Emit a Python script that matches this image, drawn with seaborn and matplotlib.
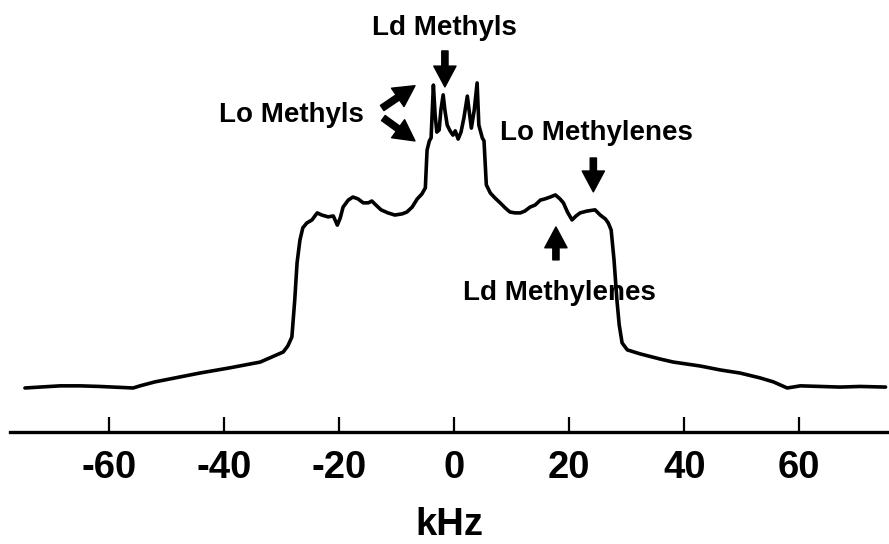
import numpy as np
import pandas as pd
import matplotlib
matplotlib.use("Agg")
import matplotlib.pyplot as plt
import seaborn as sns

# 2H NMR powder spectrum: frequency offset (kHz) and intensity (arb. units)
freq_khz = [
    -74.6, -72.0, -68.5, -65.0, -61.6, -58.1, -55.8, -54.6, -52.0, -47.7,
    -44.2, -39.0, -33.7, -29.7, -28.9, -28.2, -27.7, -27.3, -26.8, -26.3,
    -25.6, -24.7, -23.8, -23.0, -21.9, -21.0, -20.3, -19.8, -19.3, -18.4,
    -17.6, -16.7, -15.8, -14.9, -14.3, -13.6, -12.7, -11.5, -10.3, -9.0,
    -8.2, -7.3, -6.4, -5.6, -5.0, -4.7, -4.3, -4.0, -3.6, -3.3,
    -3.0, -2.6, -2.3, -1.9, -1.6, -1.2, -0.7, -0.2, 0.2, 0.7,
    1.2, 1.7, 2.3, 2.6, 3.0, 3.5, 4.0, 4.3, 4.9, 5.2,
    5.6, 6.3, 7.1, 8.0, 8.9, 9.7, 10.6, 11.5, 12.3, 13.2,
    14.1, 15.0, 15.8, 16.7, 17.6, 18.4, 19.0, 19.7, 20.5, 21.2,
    21.9, 23.1, 24.5, 25.4, 26.3, 26.8, 27.3, 27.8, 28.3, 28.7,
    29.2, 30.1, 32.3, 35.8, 38.1, 42.8, 46.3, 49.7, 53.2, 55.5,
    57.9, 60.2, 63.7, 67.1, 70.6, 75.0,
]
intensity = [
    0.0, 0.3, 0.7, 0.7, 0.5, 0.2, 0.0, 0.7, 2.0, 3.6,
    4.9, 6.6, 8.5, 11.8, 13.8, 16.7, 28.9, 41.0, 48.5, 52.5,
    54.1, 55.1, 57.4, 56.7, 56.1, 56.4, 53.4, 55.7, 59.3, 61.6,
    62.6, 62.0, 60.7, 60.7, 61.3, 60.0, 58.4, 57.4, 56.7, 57.1,
    57.7, 59.3, 62.0, 63.6, 65.6, 78.0, 81.0, 82.0, 99.3, 89.5,
    83.9, 84.6, 91.1, 96.1, 91.1, 86.2, 84.3, 82.9, 84.3, 81.6,
    83.9, 88.5, 95.7, 91.1, 85.2, 91.1, 100.0, 86.2, 82.0, 81.0,
    66.6, 63.9, 62.3, 60.7, 59.0, 57.7, 57.4, 57.4, 58.0, 59.3,
    60.0, 61.6, 62.0, 62.6, 63.3, 62.0, 60.7, 57.7, 55.1, 56.4,
    57.4, 58.0, 58.4, 56.7, 55.4, 54.1, 51.8, 42.0, 28.9, 20.7,
    14.8, 12.5, 11.2, 9.5, 8.5, 7.2, 5.9, 4.9, 3.3, 2.0,
    0.0, 0.7, 0.5, 0.3, 0.5, 0.3,
]
tick_values = [-60, -40, -20, 0, 20, 40, 60]
tick_labels = ["-60", "-40", "-20", "0", "20", "40", "60"]

# Peak labels: (text, x, y baseline)
labels = [
    ("Ld Methyls", -1.6, 115.8),
    ("Lo Methyls", -28.3, 87.2),
    ("Lo Methylenes", 24.7, 81.3),
    ("Ld Methylenes", 18.3, 28.9),
]
# Arrows: (tail x, tail y, head x, head y)
arrows = [
    (-1.6, 110.5, -1.6, 98.7),
    (-12.5, 91.8, -6.8, 99.1),
    (-12.3, 88.5, -6.8, 81.0),
    (24.2, 75.4, 24.2, 64.3),
    (17.7, 42.0, 17.7, 52.8),
]

sns.set_style("white")
plt.rcParams["font.family"] = ["Liberation Sans", "DejaVu Sans"]
plt.rcParams["font.weight"] = "bold"
plt.rcParams["text.color"] = "black"
plt.rcParams["xtick.color"] = "black"
plt.rcParams["axes.labelcolor"] = "black"

df = pd.DataFrame({"kHz": freq_khz, "intensity": intensity})

fig = plt.figure(figsize=(8.89, 5.44), dpi=100)
ax = fig.add_axes([10 / 889, (544 - 432) / 544, 879 / 889, 432 / 544])

sns.lineplot(data=df, x="kHz", y="intensity", ax=ax, color="black",
             linewidth=2.6, sort=False)

ax.set_xlim(-77.2, 75.6)
ax.set_ylim(-14.43, 127.2)

for side in ("left", "top", "right"):
    ax.spines[side].set_visible(False)
ax.spines["bottom"].set_linewidth(2.4)
ax.spines["bottom"].set_color("black")

ax.set_yticks([])
ax.set_ylabel("")
ax.set_xticks(tick_values)
ax.set_xticklabels(tick_labels, fontsize=27.5, fontweight="bold", color="black")
ax.tick_params(axis="x", direction="in", length=11, width=1.6,
               color="black", labelcolor="black", pad=13, bottom=True)
ax.set_xlabel("kHz", fontsize=27.5, fontweight="bold", labelpad=15, color="black")

for text, x, y in labels:
    ax.text(x, y, text, fontsize=20, fontweight="bold", ha="center",
            va="baseline", color="black")

for x0, y0, x1, y1 in arrows:
    ax.annotate("", xy=(x1, y1), xytext=(x0, y0),
                arrowprops=dict(arrowstyle="simple,head_length=1.5,head_width=1.6,tail_width=0.45",
                                mutation_scale=10, color="black",
                                shrinkA=0, shrinkB=0))

fig.savefig("out.png", dpi=100)
